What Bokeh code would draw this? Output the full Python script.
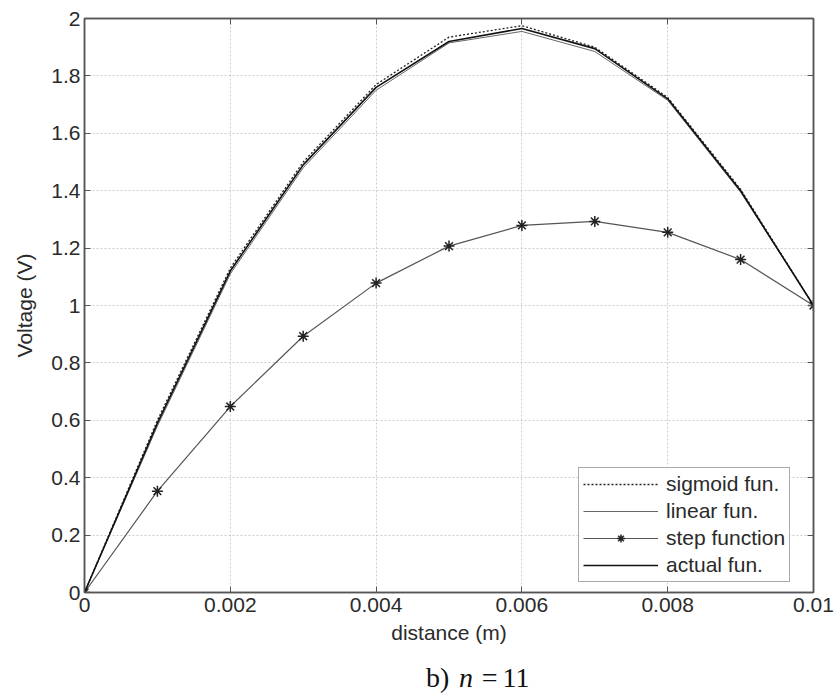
from bokeh.plotting import figure
from bokeh.layouts import column
from bokeh.models import (FixedTicker, LinearAxis, Range1d, Legend, LegendItem)
from bokeh.core.properties import value
from bokeh.embed import file_html
from bokeh.resources import INLINE

# distance along the device (m)
distance = [0.0, 0.001, 0.002, 0.003, 0.004, 0.005, 0.006, 0.007, 0.008, 0.009, 0.010]

# voltage profiles (V)
sigmoid_fun = [0.0, 0.60, 1.13, 1.50, 1.77, 1.935, 1.975, 1.900, 1.725, 1.405, 1.0]
linear_fun = [0.0, 0.58, 1.11, 1.48, 1.75, 1.915, 1.955, 1.885, 1.715, 1.395, 1.0]
step_function = [0.0, 0.353, 0.648, 0.893, 1.078, 1.207, 1.279, 1.293, 1.255, 1.160, 1.0]
actual_fun = [0.0, 0.59, 1.12, 1.49, 1.76, 1.92, 1.965, 1.895, 1.72, 1.40, 1.0]

x_ticks = [0.0, 0.002, 0.004, 0.006, 0.008, 0.010]
x_tick_labels = ["0", "0.002", "0.004", "0.006", "0.008", "0.01"]
y_ticks = [0.0, 0.2, 0.4, 0.6, 0.8, 1.0, 1.2, 1.4, 1.6, 1.8, 2.0]
y_tick_labels = ["0", "0.2", "0.4", "0.6", "0.8", "1", "1.2", "1.4", "1.6", "1.8", "2"]

FONT = "Liberation Sans"
AXIS_COLOR = "#555555"
TEXT_COLOR = "#2a2a2a"

p = figure(frame_width=729, frame_height=574, output_backend="svg",
           toolbar_location=None, x_range=Range1d(0, 0.01), y_range=Range1d(0, 2),
           min_border_left=84, min_border_right=24, min_border_top=18,
           min_border_bottom=65, background_fill_color="white",
           border_fill_color="white")

p.outline_line_color = AXIS_COLOR
p.outline_line_width = 1.5

# grid
p.xgrid.ticker = FixedTicker(ticks=x_ticks)
p.ygrid.ticker = FixedTicker(ticks=y_ticks)
for g in (p.xgrid, p.ygrid):
    g.grid_line_color = "#cccccc"
    g.grid_line_dash = "2 2"
    g.grid_line_width = 1


def style_axis(ax, ticks, labels):
    ax.ticker = FixedTicker(ticks=ticks)
    ax.axis_line_color = AXIS_COLOR
    ax.axis_line_width = 1.5
    ax.major_tick_line_color = AXIS_COLOR
    ax.major_tick_in = 6
    ax.major_tick_out = 0
    ax.minor_tick_line_color = None
    ax.major_label_text_font = FONT
    ax.major_label_text_font_size = "21px"
    ax.major_label_text_color = TEXT_COLOR
    ax.axis_label_text_font = FONT
    ax.axis_label_text_font_size = "21px"
    ax.axis_label_text_font_style = "normal"
    ax.axis_label_text_color = TEXT_COLOR
    ax.major_label_overrides = {t: s for t, s in zip(ticks, labels)}


style_axis(p.xaxis[0], x_ticks, x_tick_labels)
style_axis(p.yaxis[0], y_ticks, y_tick_labels)
p.xaxis[0].axis_label = "distance (m)"
p.xaxis[0].major_label_standoff = 5
p.xaxis[0].axis_label_standoff = 6
p.yaxis[0].axis_label = "Voltage (V)"
p.yaxis[0].major_label_standoff = 4
p.yaxis[0].axis_label_standoff = 12

# box axes on top and right with inward ticks only
top_ax = LinearAxis()
right_ax = LinearAxis()
style_axis(top_ax, x_ticks, [""] * len(x_ticks))
style_axis(right_ax, y_ticks, [""] * len(y_ticks))
top_ax.major_label_standoff = 0
right_ax.major_label_standoff = 0
p.add_layout(top_ax, "above")
p.add_layout(right_ax, "right")

r_sig = p.line(distance, sigmoid_fun, line_color="#222222", line_width=1.3, line_dash="2 2")
r_lin = p.line(distance, linear_fun, line_color="#666666", line_width=1)
r_step = p.line(distance, step_function, line_color="#555555", line_width=1.2)
r_step_m = p.scatter(distance, step_function, marker="asterisk", size=11,
                     line_color="#222222", line_width=1.5)
r_act = p.line(distance, actual_fun, line_color="#111111", line_width=1.6)

legend = Legend(items=[
    LegendItem(label="sigmoid fun.", renderers=[r_sig]),
    LegendItem(label="linear fun.", renderers=[r_lin]),
    LegendItem(label="step function", renderers=[r_step, r_step_m]),
    LegendItem(label="actual fun.", renderers=[r_act]),
], location=(494, 10))
legend.label_text_font = FONT
legend.label_text_font_size = "21px"
legend.label_text_color = TEXT_COLOR
legend.glyph_width = 75
legend.glyph_height = 20
legend.label_height = 20
legend.label_standoff = 8
legend.spacing = 3
legend.padding = 4
legend.margin = 0
legend.border_line_color = AXIS_COLOR
legend.border_line_width = 1.5
legend.background_fill_color = "white"
legend.background_fill_alpha = 1
p.add_layout(legend)

# caption strip: "b) n = 11"
cap = figure(width=837, height=40, output_backend="svg", toolbar_location=None,
             x_range=Range1d(0, 837), y_range=Range1d(0, 40),
             min_border=0, outline_line_color=None,
             background_fill_color="white", border_fill_color="white")
cap.axis.visible = False
cap.grid.visible = False

cap_parts = [("b)", 392, "normal"), ("n", 430, "italic"), ("=", 456, "normal"), ("11", 480, "normal")]
for txt, xpos, style in cap_parts:
    cap.text(x=[xpos], y=[20], text=[txt], text_font=value("Liberation Serif"),
             text_font_size="28px", text_font_style=style, text_color="#111111",
             text_baseline="middle", text_align="left")

open("out.html", "w").write(file_html(column(p, cap, spacing=0), INLINE))
